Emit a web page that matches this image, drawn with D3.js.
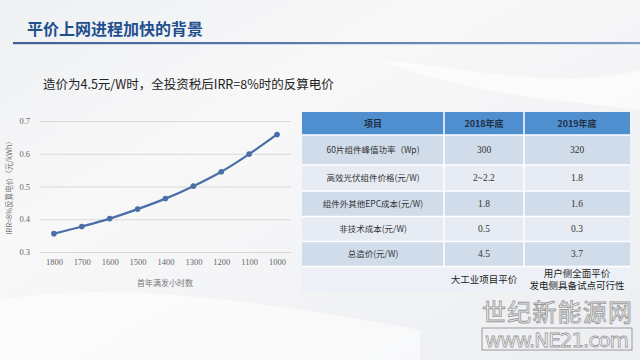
<!DOCTYPE html>
<html><head><meta charset="utf-8">
<script src="https://cdn.jsdelivr.net/npm/d3@7"></script>
<style>html,body{margin:0;padding:0;overflow:hidden;background:#f2f3f5}</style>
</head><body>
<svg id="c" width="640" height="360"></svg>
<script>
// ---- data ----
const hours = ["1800","1700","1600","1500","1400","1300","1200","1100","1000"];
const price = [0.356, 0.378, 0.402, 0.431, 0.463, 0.501, 0.545, 0.599, 0.659];
const yTicks = [0.3, 0.4, 0.5, 0.6, 0.7];
const tableHeader = ["项目", "2018年底", "2019年底"];
const rowItems = ["60片组件峰值功率（Wp)", "高效光伏组件价格(元/W)", "组件外其他EPC成本(元/W)", "非技术成本(元/W)", "总造价(元/W)"];
const val2018 = ["300", "2~2.2", "1.8", "0.5", "4.5"];
const val2019 = ["320", "1.8", "1.6", "0.3", "3.7"];
const note2018 = ["大工业项目平价"];
const note2019 = ["用户侧全面平价", "发电侧具备试点可行性"];
const titleText = "平价上网进程加快的背景";
const subTitle = "造价为4.5元/W时，全投资税后IRR=8%时的反算电价";
const yTitle = "IRR=8%反算电价（元/kWh）";
const xTitle = "首年满发小时数";

const svg = d3.select("#c");
const defs = svg.append("defs");
const bg = defs.append("linearGradient").attr("id","bg").attr("x1",0).attr("y1",0).attr("x2",1).attr("y2",1);
bg.append("stop").attr("offset","0%").attr("stop-color","#eef0f2");
bg.append("stop").attr("offset","35%").attr("stop-color","#f8f8f9");
bg.append("stop").attr("offset","100%").attr("stop-color","#eceef1");
svg.append("rect").attr("width",640).attr("height",360).attr("fill","url(#bg)");
// soft swooshes
svg.append("path").attr("d","M0,300 C120,280 250,300 420,330 L420,360 L0,360 Z").attr("fill","#ffffff").attr("opacity",0.55);
svg.append("path").attr("d","M380,60 C480,70 560,90 640,70 L640,110 C560,100 470,95 380,60 Z").attr("fill","#ffffff").attr("opacity",0.6);

// title
svg.append("text").attr("x",27).attr("y",35).text(titleText)
  .attr("font-family","'Noto Sans CJK SC'").attr("font-weight",700).attr("font-size",16).attr("fill","#1e4f8f");
const lg = defs.append("linearGradient").attr("id","ul").attr("x1",0).attr("x2",1);
lg.append("stop").attr("offset","0%").attr("stop-color","#3d5f99");
lg.append("stop").attr("offset","100%").attr("stop-color","#7f9cc7");
svg.append("rect").attr("x",13).attr("y",42).attr("width",627).attr("height",2.2).attr("fill","url(#ul)");

// subtitle
svg.append("text").attr("x",43).attr("y",89).text(subTitle)
  .attr("font-family","'Noto Sans CJK SC'").attr("font-size",12.5).attr("fill","#222");

// chart
const x = d3.scalePoint().domain(hours).range([40,291]).padding(0.5);
const y = d3.scaleLinear().domain([0.3,0.7]).range([252,121]);
const g = svg.append("g");
const yAxis = d3.axisLeft(y).tickValues(yTicks).tickFormat(d3.format(".1f")).tickSize(-251).tickPadding(10);
const ya = g.append("g").attr("transform","translate(40,0)").call(yAxis);
ya.select(".domain").remove();
ya.selectAll("line").attr("stroke","#d9d9d9").attr("stroke-width",1);
ya.selectAll("text").attr("font-family","'Liberation Serif'").attr("font-size",8.5).attr("fill","#666");
const xAxis = d3.axisBottom(x).tickSize(0).tickPadding(7);
const xa = g.append("g").attr("transform","translate(0,252)").call(xAxis);
xa.select(".domain").remove();
xa.selectAll("text").attr("font-family","'Liberation Serif'").attr("font-size",8.5).attr("fill","#666");

g.append("path").datum(price.map((v,i)=>[hours[i],v]))
  .attr("d", d3.line().x(d=>x(d[0])).y(d=>y(d[1])).curve(d3.curveMonotoneX))
  .attr("fill","none").attr("stroke","#4a6ea6").attr("stroke-width",2.2);
g.selectAll("circle.pt").data(price).join("circle").attr("class","pt")
  .attr("cx",(d,i)=>x(hours[i])).attr("cy",d=>y(d)).attr("r",2.8).attr("fill","#4a6ea6");

g.append("text").attr("transform","translate(12,186) rotate(-90)").attr("text-anchor","middle")
  .text(yTitle).attr("font-family","'Noto Sans CJK SC'").attr("font-size",7.5).attr("fill","#777");
g.append("text").attr("x",165).attr("y",286).attr("text-anchor","middle")
  .text(xTitle).attr("font-family","'Noto Sans CJK SC'").attr("font-size",8).attr("fill","#777");

// table
const colX = [302, 444, 524, 630];
const rowH = [23, 30, 26, 25.5, 25, 25, 26];
const rowY = [112];
rowH.forEach((h,i)=>rowY.push(rowY[i]+h));
const tg = svg.append("g");
const fills = ["#4f8fcf","#d0dcea","#e7ecf4","#d0dcea","#e7ecf4","#d0dcea","#edf1f7"];
rowH.forEach((h,i)=>{
  tg.append("rect").attr("x",colX[0]).attr("y",rowY[i]).attr("width",colX[3]-colX[0]).attr("height",h).attr("fill",fills[i]);
});
// separators
rowY.slice(1,-1).forEach(yy=>tg.append("line").attr("x1",colX[0]).attr("x2",colX[3]).attr("y1",yy).attr("y2",yy).attr("stroke","#fff").attr("stroke-width",1.5));
[colX[1],colX[2]].forEach(xx=>tg.append("line").attr("x1",xx).attr("x2",xx).attr("y1",rowY[0]).attr("y2",rowY[6]).attr("stroke","#fff").attr("stroke-width",1.5));

const cx = i => (colX[i]+colX[i+1])/2;
const cy = r => (rowY[r]+rowY[r+1])/2;
tableHeader.forEach((t,i)=>tg.append("text").attr("x",cx(i)).attr("y",cy(0)).attr("dy","0.35em").attr("text-anchor","middle")
  .text(t).attr("font-family","'Noto Sans CJK SC'").attr("font-weight",700).attr("font-size",9).attr("fill","#1f2f45"));
rowItems.forEach((t,r)=>tg.append("text").attr("x",cx(0)).attr("y",cy(r+1)).attr("dy","0.35em").attr("text-anchor","middle")
  .text(t).attr("font-family","'Noto Sans CJK SC'").attr("font-size",8.5).attr("fill","#333"));
[val2018,val2019].forEach((arr,c)=>arr.forEach((t,r)=>tg.append("text").attr("x",cx(c+1)).attr("y",cy(r+1)).attr("dy","0.35em").attr("text-anchor","middle")
  .text(t).attr("font-family","'Liberation Serif'").attr("font-size",9.5).attr("fill","#333")));
note2018.forEach((t,k)=>tg.append("text").attr("x",cx(1)).attr("y",cy(6)).attr("dy","0.35em").attr("text-anchor","middle")
  .text(t).attr("font-family","'Noto Sans CJK SC'").attr("font-size",9.5).attr("fill","#222"));
note2019.forEach((t,k)=>tg.append("text").attr("x",cx(2)).attr("y",cy(6)+(k-0.5)*12.5).attr("dy","0.35em").attr("text-anchor","middle")
  .text(t).attr("font-family","'Noto Sans CJK SC'").attr("font-size",9.5).attr("fill","#222"));

// watermark
const wm = svg.append("g");
wm.append("text").attr("x",632).attr("y",321).attr("text-anchor","end").text("世纪新能源网")
  .attr("font-family","'Noto Sans CJK SC'").attr("font-size",24).attr("textLength",150).attr("fill","#fff").attr("stroke","#9a9a9a").attr("stroke-width",0.9);
wm.append("rect").attr("x",482).attr("y",328).attr("width",150).attr("height",22).attr("fill","none").attr("stroke","#9a9a9a").attr("stroke-width",1);
wm.append("text").attr("x",557).attr("y",347).attr("text-anchor","middle").text("www.NE21.com")
  .attr("font-family","'DejaVu Sans'").attr("font-size",20).attr("textLength",144).attr("fill","#fff").attr("stroke","#9a9a9a").attr("stroke-width",0.8);
</script>
</body></html>
